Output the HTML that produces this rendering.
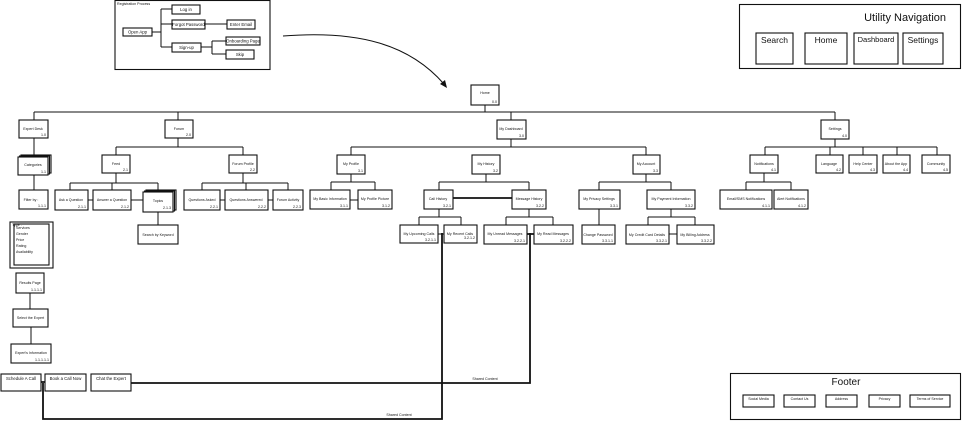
<!DOCTYPE html>
<html><head><meta charset="utf-8"><style>
html,body{margin:0;padding:0;background:#fff;width:966px;height:429px;overflow:hidden}
svg{display:block}
text{font-family:"Liberation Sans",sans-serif;fill:#111}
.n{fill:#fff;stroke:#111;stroke-width:1.1}
.l{stroke:#111;stroke-width:1;fill:none}
.t{stroke:#111;stroke-width:1.8;fill:none}
.s{font-size:4.3px}
.m{font-size:3.6px}
</style></head><body>
<svg width="966" height="429" viewBox="0 0 966 429" xmlns="http://www.w3.org/2000/svg">
<!-- Registration -->
<rect x="115" y="0.5" width="155" height="69" class="n" stroke-width="1.3"/>
<text x="117" y="5" class="m">Registration Process</text>
<path class="l" d="M152 32H161M161 9V47M161 9H172M161 24H172M161 47H172M205 24H227M201 47H212M212 41V54M212 41H226M212 54H226"/>
<rect x="123" y="28" width="29" height="8" class="n"/><text x="137.5" y="33.5" class="s" text-anchor="middle">Open App</text>
<rect x="172" y="5" width="28" height="9" class="n"/><text x="186" y="11" class="s" text-anchor="middle">Log in</text>
<rect x="172" y="20" width="33" height="9" class="n"/><text x="188.5" y="26" class="s" text-anchor="middle">Forgot Password</text>
<rect x="227" y="20" width="28" height="9" class="n"/><text x="241" y="26" class="s" text-anchor="middle">Enter Email</text>
<rect x="172" y="43" width="29" height="9" class="n"/><text x="186.5" y="49" class="s" text-anchor="middle">Sign-up</text>
<rect x="226" y="37" width="34" height="8" class="n"/><text x="243" y="42.5" class="s" text-anchor="middle">Onboarding Page</text>
<rect x="226" y="50" width="28" height="9" class="n"/><text x="240" y="56" class="s" text-anchor="middle">Skip</text>
<!-- arrow -->
<path class="l" d="M283 36C360 30 410 45 444 84"/>
<path d="M447 88L440 84L445 80Z" fill="#111"/>
<!-- Utility nav -->
<rect x="739.5" y="4.5" width="221" height="64" class="n" stroke-width="1.3"/>
<text x="946" y="21" style="font-size:11px" text-anchor="end">Utility Navigation</text>
<rect x="756" y="33" width="37" height="31" class="n"/><text x="774.5" y="43" style="font-size:8.5px" text-anchor="middle">Search</text>
<rect x="805" y="33" width="42" height="31" class="n"/><text x="826" y="43" style="font-size:8.5px" text-anchor="middle">Home</text>
<rect x="854" y="33" width="44" height="31" class="n"/><text x="876" y="42" style="font-size:7.5px" text-anchor="middle">Dashboard</text>
<rect x="903" y="33" width="40" height="31" class="n"/><text x="923" y="43" style="font-size:8.5px" text-anchor="middle">Settings</text>
<!-- Footer -->
<rect x="730.5" y="373.5" width="230" height="46" class="n" stroke-width="1.3"/>
<text x="846" y="385" style="font-size:10px" text-anchor="middle">Footer</text>
<rect x="743" y="395" width="31" height="12" class="n"/><text x="758.5" y="400" class="m" text-anchor="middle">Social Media</text>
<rect x="784" y="395" width="31" height="12" class="n"/><text x="799.5" y="400" class="m" text-anchor="middle">Contact Us</text>
<rect x="826" y="395" width="31" height="12" class="n"/><text x="841.5" y="400" class="m" text-anchor="middle">Address</text>
<rect x="869" y="395" width="31" height="12" class="n"/><text x="884.5" y="400" class="m" text-anchor="middle">Privacy</text>
<rect x="910" y="395" width="40" height="12" class="n"/><text x="930" y="400" class="m" text-anchor="middle">Terms of Service</text>

<!-- connectors tree -->
<path class="l" d="M485 105V112M34 112H835M34 112V120M178 112V120M511 112V120M835 112V120
M34 138V155M34 173V190
M178 138V147M116 147H243M116 147V155M243 147V155
M116 173V183M70 183H158M70 183V190M112 183V190M158 183V190M158 210V225
M243 173V183M202 183H288M202 183V190M246 183V190M288 183V190
M511 139V147M351 147H646M351 147V155M646 147V155
M351 174V182M331 182H375M331 182V190M375 182V190
M486 174V182M439 182H529M439 182V190M529 182V190
M646 174V182M599 182H671M599 182V190M671 182V190
M599 209V225M671 209V217M648 217H695M648 217V225M695 217V225
M439 209V217M419 217H461M419 217V225M461 217V225
M529 209V217M506 217H553M506 217V225M553 217V225
M835 139V147M765 147H937M765 147V155M830 147V155M863 147V155M897 147V155M937 147V155
M764 173V182M746 182H791M746 182V190M791 182V190
M88 200H93M131 200H143M220 200H225M268 200H273M350 200H358M669 234H677M438 234H444
M30 293V309M31 327V344"/>
<path class="t" d="M453 198H512M527 234H534M773 200H773"/>
<path class="t" d="M131 383H530V233M43 383V419H442V233M41 382H45"/>
<path class="l" d="M486 174V182" stroke-dasharray="2,1"/>
<text x="485" y="380" class="m" text-anchor="middle">Shared Content</text>
<text x="399" y="416" class="m" text-anchor="middle">Shared Content</text>

<!-- nodes -->
<g>
<rect x="471" y="85" width="28" height="20" class="n"/><text x="485" y="94" class="m" text-anchor="middle">Home</text><text x="497" y="103" class="m" text-anchor="end">0.0</text>
<rect x="19" y="120" width="29" height="18" class="n"/><text x="33" y="130" class="m" text-anchor="middle">Expert Desk</text><text x="46" y="136" class="m" text-anchor="end">1.0</text>
<rect x="165" y="120" width="28" height="18" class="n"/><text x="179" y="130" class="m" text-anchor="middle">Forum</text><text x="191" y="136" class="m" text-anchor="end">2.0</text>
<rect x="497" y="120" width="29" height="19" class="n"/><text x="511" y="130" class="m" text-anchor="middle">My Dashboard</text><text x="524" y="137" class="m" text-anchor="end">3.0</text>
<rect x="821" y="120" width="28" height="19" class="n"/><text x="835" y="130" class="m" text-anchor="middle">Settings</text><text x="847" y="137" class="m" text-anchor="end">4.0</text>

<rect x="21" y="155" width="30" height="18" class="n"/><rect x="19.5" y="156" width="30" height="18" class="n"/><rect x="18" y="157" width="30" height="18" class="n"/><text x="33" y="166" class="m" text-anchor="middle">Categories</text><text x="46" y="173" class="m" text-anchor="end">1.1</text>
<rect x="102" y="155" width="28" height="18" class="n"/><text x="116" y="165" class="m" text-anchor="middle">Feed</text><text x="128" y="171" class="m" text-anchor="end">2.1</text>
<rect x="229" y="155" width="28" height="18" class="n"/><text x="243" y="165" class="m" text-anchor="middle">Forum Profile</text><text x="255" y="171" class="m" text-anchor="end">2.2</text>
<rect x="337" y="155" width="28" height="19" class="n"/><text x="351" y="165" class="m" text-anchor="middle">My Profile</text><text x="363" y="172" class="m" text-anchor="end">3.1</text>
<rect x="472" y="155" width="28" height="19" class="n"/><text x="486" y="165" class="m" text-anchor="middle">My History</text><text x="498" y="172" class="m" text-anchor="end">3.2</text>
<rect x="633" y="155" width="27" height="19" class="n"/><text x="646" y="165" class="m" text-anchor="middle">My Account</text><text x="658" y="172" class="m" text-anchor="end">3.3</text>
<rect x="750" y="155" width="28" height="18" class="n"/><text x="764" y="165" class="m" text-anchor="middle">Notifications</text><text x="776" y="171" class="m" text-anchor="end">4.1</text>
<rect x="816" y="155" width="27" height="18" class="n"/><text x="829" y="165" class="m" text-anchor="middle">Language</text><text x="841" y="171" class="m" text-anchor="end">4.2</text>
<rect x="849" y="155" width="28" height="18" class="n"/><text x="863" y="165" class="m" text-anchor="middle">Help Center</text><text x="875" y="171" class="m" text-anchor="end">4.3</text>
<rect x="883" y="155" width="27" height="18" class="n"/><text x="896" y="165" class="m" text-anchor="middle">About the App</text><text x="908" y="171" class="m" text-anchor="end">4.4</text>
<rect x="922" y="155" width="28" height="18" class="n"/><text x="936" y="165" class="m" text-anchor="middle">Community</text><text x="948" y="171" class="m" text-anchor="end">4.5</text>

<rect x="19" y="190" width="29" height="19" class="n"/><text x="31" y="201" class="m" text-anchor="middle">Filter by :</text><text x="46" y="207" class="m" text-anchor="end">1.1.1</text>
<rect x="55" y="190" width="33" height="20" class="n"/><text x="71" y="201" class="m" text-anchor="middle">Ask a Question</text><text x="86" y="208" class="m" text-anchor="end">2.1.1</text>
<rect x="93" y="190" width="38" height="20" class="n"/><text x="112" y="201" class="m" text-anchor="middle">Answer a Question</text><text x="129" y="208" class="m" text-anchor="end">2.1.2</text>
<rect x="146" y="190" width="30" height="20" class="n"/><rect x="144.5" y="191" width="30" height="20" class="n"/><rect x="143" y="192" width="30" height="20" class="n"/><text x="158" y="202" class="m" text-anchor="middle">Topics</text><text x="171" y="209" class="m" text-anchor="end">2.1.3</text>
<rect x="184" y="190" width="36" height="20" class="n"/><text x="202" y="201" class="m" text-anchor="middle">Questions Asked</text><text x="218" y="208" class="m" text-anchor="end">2.2.1</text>
<rect x="225" y="190" width="43" height="20" class="n"/><text x="246" y="201" class="m" text-anchor="middle">Questions Answered</text><text x="266" y="208" class="m" text-anchor="end">2.2.2</text>
<rect x="273" y="190" width="30" height="20" class="n"/><text x="288" y="201" class="m" text-anchor="middle">Forum Activity</text><text x="301" y="208" class="m" text-anchor="end">2.2.3</text>
<rect x="310" y="190" width="40" height="19" class="n"/><text x="330" y="200" class="m" text-anchor="middle">My Basic Information</text><text x="348" y="207" class="m" text-anchor="end">3.1.1</text>
<rect x="358" y="190" width="34" height="19" class="n"/><text x="375" y="200" class="m" text-anchor="middle">My Profile Picture</text><text x="390" y="207" class="m" text-anchor="end">3.1.2</text>
<rect x="424" y="190" width="29" height="19" class="n"/><text x="438" y="200" class="m" text-anchor="middle">Call History</text><text x="451" y="207" class="m" text-anchor="end">3.2.1</text>
<rect x="512" y="190" width="34" height="19" class="n"/><text x="529" y="200" class="m" text-anchor="middle">Message History</text><text x="544" y="207" class="m" text-anchor="end">3.2.2</text>
<rect x="579" y="190" width="41" height="19" class="n"/><text x="599" y="200" class="m" text-anchor="middle">My Privacy Settings</text><text x="618" y="207" class="m" text-anchor="end">3.3.1</text>
<rect x="647" y="190" width="48" height="19" class="n"/><text x="671" y="200" class="m" text-anchor="middle">My Payment Information</text><text x="693" y="207" class="m" text-anchor="end">3.3.2</text>
<rect x="720" y="190" width="52" height="19" class="n"/><text x="746" y="200" class="m" text-anchor="middle">Email/SMS Notifications</text><text x="770" y="207" class="m" text-anchor="end">4.1.1</text>
<rect x="774" y="190" width="34" height="19" class="n"/><text x="791" y="200" class="m" text-anchor="middle">Alert Notifications</text><text x="806" y="207" class="m" text-anchor="end">4.1.2</text>

<rect x="138" y="225" width="40" height="19" class="n"/><text x="158" y="236" class="m" text-anchor="middle">Search by Keyword</text>
<rect x="400" y="225" width="38" height="18" class="n"/><text x="419" y="235" class="m" text-anchor="middle">My Upcoming Calls</text><text x="436" y="241" class="m" text-anchor="end">3.2.1.1</text>
<rect x="444" y="225" width="33" height="18" class="n"/><text x="460" y="235" class="m" text-anchor="middle">My Recent Calls</text><text x="475" y="239" class="m" text-anchor="end">3.2.1.2</text>
<rect x="484" y="225" width="43" height="19" class="n"/><text x="505" y="235" class="m" text-anchor="middle">My Unread Messages</text><text x="525" y="242" class="m" text-anchor="end">3.2.2.1</text>
<rect x="534" y="225" width="39" height="19" class="n"/><text x="553" y="235" class="m" text-anchor="middle">My Read Messages</text><text x="571" y="242" class="m" text-anchor="end">3.2.2.2</text>
<rect x="582" y="225" width="33" height="19" class="n"/><text x="598" y="236" class="m" text-anchor="middle">Change Password</text><text x="613" y="242" class="m" text-anchor="end">3.3.1.1</text>
<rect x="626" y="225" width="43" height="19" class="n"/><text x="647" y="236" class="m" text-anchor="middle">My Credit Card Details</text><text x="667" y="242" class="m" text-anchor="end">3.3.2.1</text>
<rect x="677" y="225" width="37" height="19" class="n"/><text x="695" y="236" class="m" text-anchor="middle">My Billing Address</text><text x="712" y="242" class="m" text-anchor="end">3.3.2.2</text>

<rect x="10" y="222" width="43" height="46" class="n"/><rect x="14" y="224" width="35" height="41" class="n"/>
<text x="12" y="226" class="m">Type :</text>
<text x="16" y="229" class="m">Services</text><text x="16" y="235" class="m">Gender</text><text x="16" y="241" class="m">Price</text><text x="16" y="247" class="m">Rating</text><text x="16" y="253" class="m">Availability</text>
<rect x="16" y="273" width="28" height="20" class="n"/><text x="30" y="284" class="m" text-anchor="middle">Results Page</text><text x="42" y="291" class="m" text-anchor="end">1.1.1.1</text>
<rect x="13" y="309" width="35" height="18" class="n"/><text x="30.5" y="319" class="m" text-anchor="middle">Select the Expert</text>
<rect x="11" y="344" width="40" height="19" class="n"/><text x="31" y="354" class="m" text-anchor="middle">Expert's Information</text><text x="49" y="361" class="m" text-anchor="end">1.1.1.1.1</text>
<rect x="1" y="374" width="40" height="17" class="n"/><text x="21" y="380" class="s" text-anchor="middle">Schedule A Call</text>
<rect x="45" y="374" width="41" height="17" class="n"/><text x="65.5" y="380" class="s" text-anchor="middle">Book a Call Now</text>
<rect x="91" y="374" width="40" height="17" class="n"/><text x="111" y="380" class="s" text-anchor="middle">Chat the Expert</text>
</g>
</svg>
</body></html>
